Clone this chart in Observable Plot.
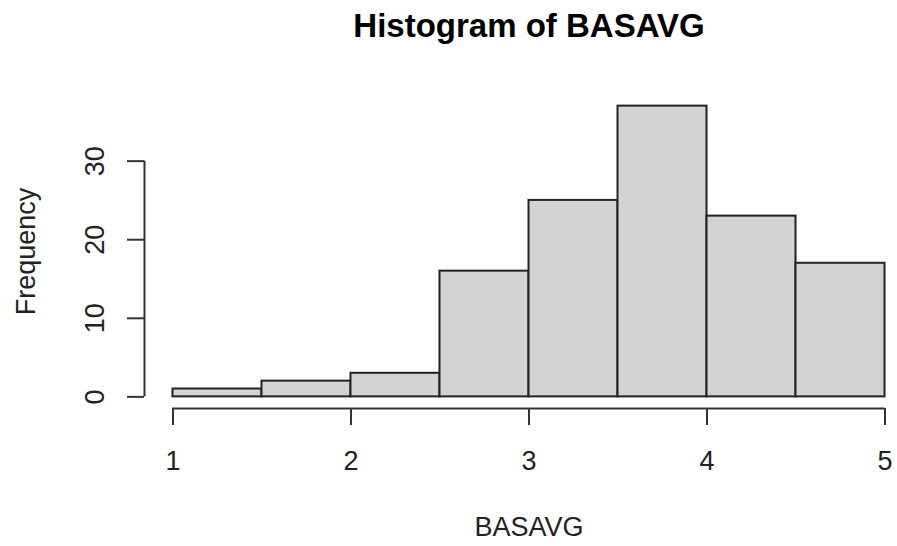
<!DOCTYPE html>
<html>
<head>
<meta charset="utf-8">
<script src="https://cdn.jsdelivr.net/npm/d3@7"></script>
<script src="https://cdn.jsdelivr.net/npm/@observablehq/plot@0.6"></script>
<style>
  html, body { margin: 0; padding: 0; background: #fff; }
  #chart svg { display: block; }
</style>
</head>
<body>
<div id="chart"></div>
<script>
const titleText = "Histogram of BASAVG";
const xLabel = "BASAVG";
const yLabel = "Frequency";
const breaks = [1, 1.5, 2, 2.5, 3, 3.5, 4, 4.5, 5];
const counts = [1, 2, 3, 16, 25, 37, 23, 17];
const xTicks = [1, 2, 3, 4, 5];
const yTicks = [0, 10, 20, 30];

const bins = counts.map((c, i) => ({x0: breaks[i], x1: breaks[i + 1], count: c}));

// R-style 4% axis extension
const xMin = breaks[0], xMax = breaks[breaks.length - 1];
const xPad = (xMax - xMin) * 0.04;
const yMax = d3.max(counts);
const yPad = yMax * 0.04;
const xDomain = [xMin - xPad, xMax + xPad];
const yDomain = [-yPad, yMax + yPad];

const W = 897, H = 546;
const mL = 144, mT = 94, mB = 138;
const axisColor = "#333";
const font = "'Liberation Sans', Arial, Helvetica, sans-serif";

const chart = Plot.plot({
  width: W,
  height: H,
  marginLeft: mL,
  marginRight: 0,
  marginTop: mT,
  marginBottom: mB,
  style: {fontFamily: font, fontSize: "27px", background: "#fff", color: "#222"},
  x: {domain: xDomain, range: [mL, 913], axis: null},
  y: {domain: yDomain, range: [H - mB, mT], axis: null},
  marks: [
    Plot.rect(bins, {x1: "x0", x2: "x1", y1: 0, y2: "count", fill: "#d3d3d3", stroke: "#222", strokeWidth: 2}),
    // x axis
    Plot.ruleY([yDomain[0]], {x1: xTicks[0], x2: xTicks[xTicks.length - 1], stroke: axisColor, strokeWidth: 2}),
    Plot.axisX({ticks: xTicks, tickSize: 17, tickPadding: 25, stroke: axisColor, strokeWidth: 2, fill: "#222", fontSize: 27, label: null, tickFormat: d => String(d)}),
    // y axis
    Plot.ruleX([xDomain[0]], {y1: yTicks[0], y2: yTicks[yTicks.length - 1], stroke: axisColor, strokeWidth: 2}),
    Plot.axisY({ticks: yTicks, tickSize: 17, stroke: axisColor, strokeWidth: 2, label: null, tickFormat: () => ""}),
    Plot.text(yTicks, {y: d => d, text: d => String(d), frameAnchor: "left", rotate: -90, textAnchor: "middle", lineAnchor: "bottom", dx: -41, fontSize: 27, fill: "#222"}),
    // labels
    Plot.text([titleText], {frameAnchor: "top", lineAnchor: "bottom", dx: 8, dy: 36 - mT, fontSize: 33, fontWeight: "bold", fill: "#000"}),
    Plot.text([xLabel], {frameAnchor: "bottom", lineAnchor: "bottom", dx: 8, dy: 535 - (H - mB), fontSize: 27, fill: "#222"}),
    Plot.text([yLabel], {frameAnchor: "left", rotate: -90, textAnchor: "middle", lineAnchor: "bottom", dx: 34 - mL, fontSize: 27, fill: "#222"})
  ]
});
document.getElementById("chart").appendChild(chart);
</script>
</body>
</html>
